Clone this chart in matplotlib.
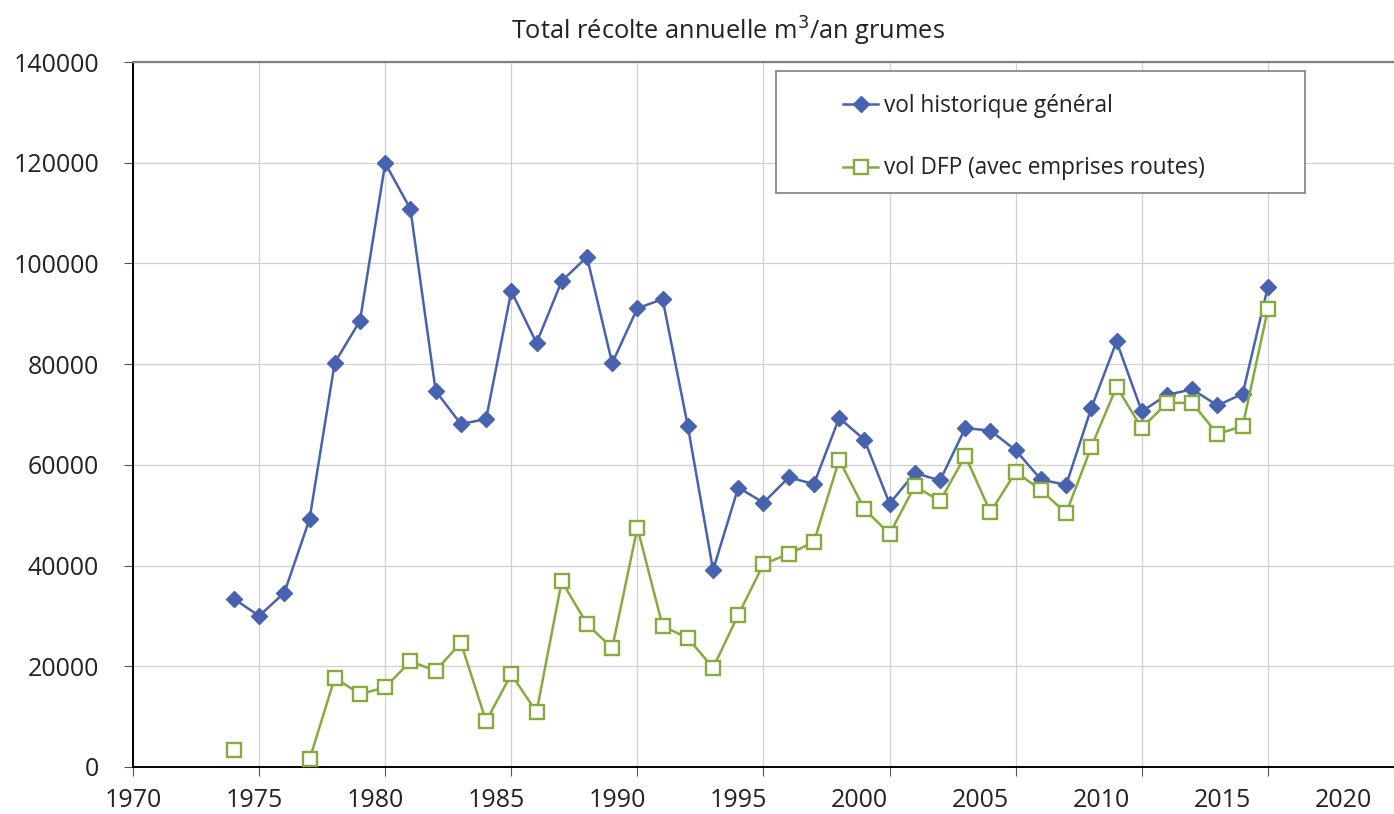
import numpy as np
import matplotlib
matplotlib.use("Agg")
import matplotlib.pyplot as plt
from matplotlib.patches import Rectangle

plt.rcParams['font.family'] = ['Open Sans', 'DejaVu Sans']

years = list(range(1974, 2016))
vol_general = [33400, 30000, 34600, 49200, 80300, 88600, 119900, 110800, 74700, 68100,
               69100, 94500, 84200, 96500, 101300, 80200, 91100, 92900, 67700, 39100,
               55500, 52500, 57500, 56200, 69300, 65000, 52300, 58400, 56900, 67300,
               66800, 62900, 57100, 56000, 71300, 84500, 70600, 73900, 75000, 71800,
               74100, 95400]
vol_dfp = [3400, np.nan, np.nan, 1500, 17700, 14500, 15800, 21000, 19100, 24700,
           9100, 18400, 10900, 36900, 28400, 23600, 47500, 28000, 25600, 19700,
           30200, 40300, 42300, 44700, 61000, 51200, 46300, 55800, 52800, 61800,
           50600, 58600, 55000, 50400, 63600, 75500, 67300, 72300, 72300, 66100,
           67700, 90900]
tick_years = [1970, 1975, 1980, 1985, 1990, 1995, 2000, 2005, 2010, 2015, 2020]
y_ticks = [0, 20000, 40000, 60000, 80000, 100000, 120000, 140000]
title = "Total récolte annuelle m$^3$/an grumes"
label_general = "vol historique général"
label_dfp = "vol DFP (avec emprises routes)"

W, H = 1394, 814
fig = plt.figure(figsize=(W / 100, H / 100), dpi=100)
ax = fig.add_axes([133 / W, 1 - 767 / H, (W - 133) / W, (767 - 62) / H])

blue = '#4762ae'
green = '#86ab3d'

ax.plot(years, vol_general, color=blue, lw=1.8, marker='D', ms=8.5,
        mfc=blue, mec=blue, label=label_general, zorder=3)
ax.plot(years, vol_dfp, color=green, lw=1.8, marker='s', ms=9.5,
        mfc='white', mec=green, mew=1.7, label=label_dfp, zorder=4)

ax.set_xlim(1970, 1970 + (W - 133) / 25.36)
ax.set_ylim(0, 140000)

ax.xaxis.remove_overlapping_locs = False
ax.set_xticks(tick_years)
ax.set_xticklabels([])
ax.set_xticks([1970 + (y - 1970) * 0.96 for y in tick_years], minor=True)
ax.set_xticklabels([str(y) for y in tick_years], minor=True)
ax.tick_params(axis='x', which='major', direction='out', length=6.5, width=0.8,
               color='#555555')
ax.tick_params(axis='x', which='minor', length=0, pad=15, labelsize=18,
               labelcolor='#222222')
ax.set_yticks(y_ticks)
ax.set_yticklabels([str(v) for v in y_ticks])
ax.tick_params(axis='y', direction='out', length=6.5, width=0.8, color='#555555',
               pad=18, labelsize=18, labelcolor='#222222')

ax.grid(True, which='major', color='#d0d0d0', lw=0.9)
ax.set_axisbelow(True)
ax.spines['right'].set_visible(False)
ax.spines['top'].set_color('#808080')
ax.spines['top'].set_linewidth(1.6)
ax.spines['left'].set_color('black')
ax.spines['left'].set_linewidth(1.4)
ax.spines['bottom'].set_color('black')
ax.spines['bottom'].set_linewidth(1.4)

# legend frame
fx0 = (776 - 133) / (W - 133)
fx1 = (1305 - 133) / (W - 133)
fy0 = (767 - 193) / (767 - 62)
fy1 = (767 - 71) / (767 - 62)
ax.add_patch(Rectangle((fx0, fy0), fx1 - fx0, fy1 - fy0, transform=ax.transAxes,
                       facecolor='white', edgecolor='#808080', lw=1.2, zorder=5))
leg = ax.legend(loc='upper left', bbox_to_anchor=((843 - 133) / (W - 133), (767 - 94) / (767 - 62)),
                frameon=False, fontsize=16.3, handlelength=1.55, handletextpad=0.25,
                labelspacing=1.7, borderpad=0, borderaxespad=0, numpoints=1)
leg.set_zorder(6)
for t in leg.get_texts():
    t.set_color('#222222')

fig.text(728 / W, 1 - 31 / H, title, ha='center', va='center', fontsize=18.3,
         color='#222222')

fig.savefig('out.png', dpi=100)
